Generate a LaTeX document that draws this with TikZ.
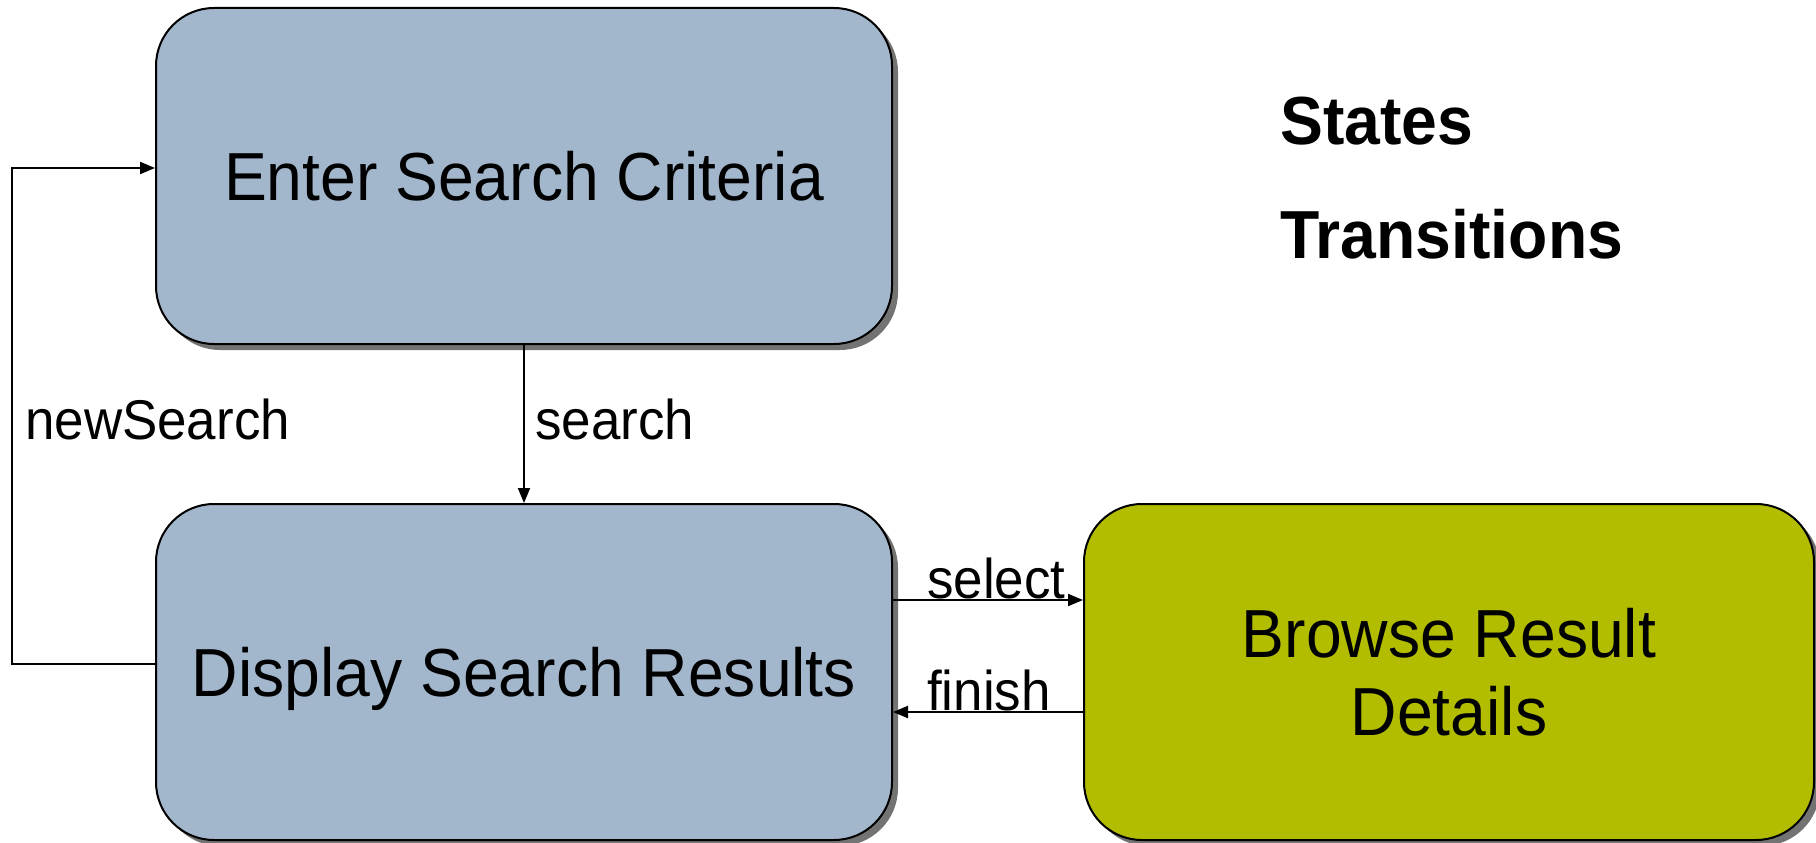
\documentclass[tikz,border=0pt]{standalone}
\usepackage{fontspec}
\setmainfont{Liberation Sans}[FakeStretch=0.945]
\usetikzlibrary{arrows.meta,shadows}
\definecolor{stateblue}{RGB}{163,183,204}
\definecolor{stategreen}{RGB}{179,189,0}
\begin{document}
\begin{tikzpicture}[x=1pt,y=-1pt,
  state/.style={draw=black, line width=2pt, rounded corners=58pt,
    minimum width=736pt, minimum height=336pt, align=center,
    font=\fontsize{68}{78}\selectfont,
    drop shadow={shadow xshift=6pt, shadow yshift=-6pt, fill=black!55, opacity=1}},
  trans/.style={line width=2pt, -{Triangle[length=15pt,width=12pt]}},
  lbl/.style={font=\fontsize{56}{64}\selectfont, inner sep=0pt},
  legend/.style={font=\bfseries\fontsize{68}{78}\selectfont, anchor=base west, inner sep=0pt}]
\useasboundingbox (0,0) rectangle (1816,843);

% states
\node[state, fill=stateblue] (enter) at (524,176) {Enter Search Criteria};
\node[state, fill=stateblue, text depth=0pt] (display) at (524,672) {Display Search Results};
\node[state, fill=stategreen, minimum width=730pt] (browse) at (1449,672) {Browse Result\\Details};

% transitions
\coordinate (nsB) at (12,664);
\coordinate (nsT) at (12,168);
\draw[trans] (enter.south) -- (display.north);
\draw[trans] (display.west |- nsB) -- (nsB) -- (nsT) -- (enter.west |- nsT);
\draw[trans] (display.east |- 0,600) -- (browse.west |- 0,600);
\draw[trans] (browse.west |- 0,712) -- (display.east |- 0,712);

% transition labels
\node[lbl, anchor=west] (lsearch) at (535,419) {search};
\node[lbl, anchor=west] (lnew) at (25,419) {newSearch};
\node[lbl, anchor=base west] (lselect) at (927,598) {select};
\node[lbl, anchor=base west] (lfinish) at (927,710) {finish};

% legend
\node[legend] (kstates) at (1280,144) {States};
\node[legend] (ktrans) at (1280,258) {Transitions};
\end{tikzpicture}
\end{document}
